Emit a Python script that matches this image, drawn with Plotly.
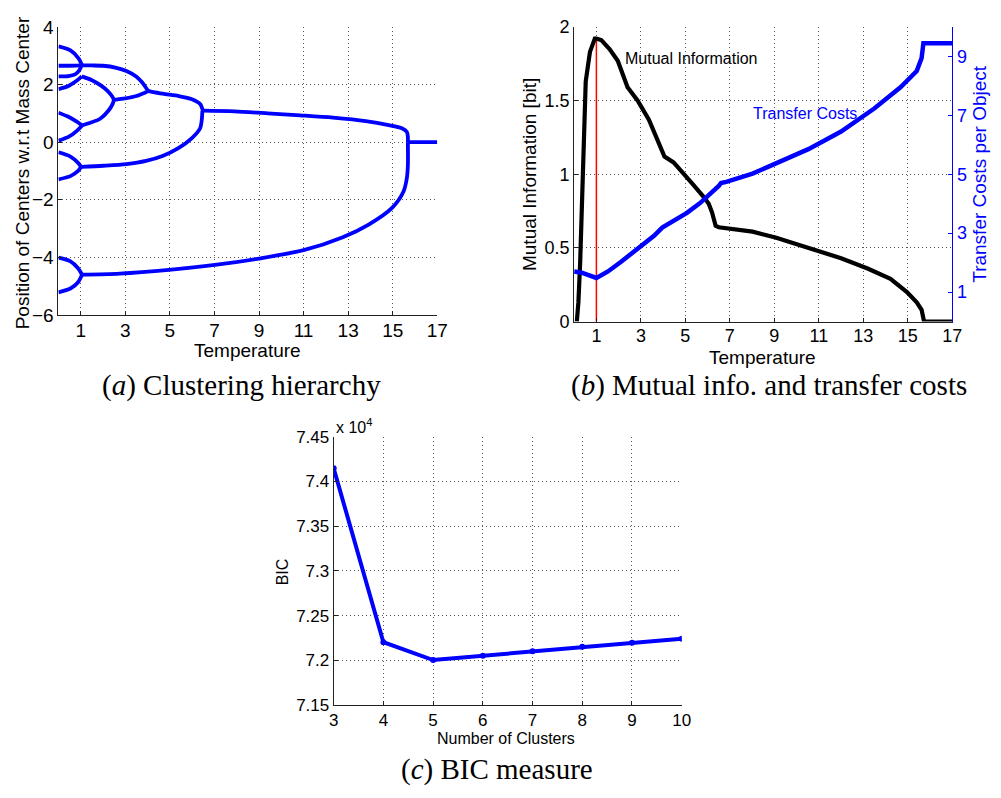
import plotly.graph_objects as go

W, H = 1001, 798
BLUE = "rgb(0,0,255)"
SANS = "Liberation Sans, Arial, sans-serif"
SERIF = "Liberation Serif, Times New Roman, serif"

# ---------------- Panel (a): clustering hierarchy branches ----------------
b1_T = [0, 0.54, 0.91, 1.06]
b1_Y = [3.32, 3.18, 2.90, 2.67]
b2_T = [0, 0.5, 1.06, 1.5, 2.0, 2.6, 3.05, 3.49, 3.78, 3.96, 4.05]
b2_Y = [2.65, 2.65, 2.66, 2.66, 2.65, 2.58, 2.47, 2.28, 2.05, 1.85, 1.77]
b3_T = [0, 0.45, 0.75, 0.92, 1.02]
b3_Y = [2.28, 2.29, 2.35, 2.47, 2.62]
b4_T = [0, 0.45, 0.8, 1.05]
b4_Y = [1.84, 1.95, 2.12, 2.28]
b5_T = [1.05, 1.5, 1.9, 2.2, 2.4, 2.49]
b5_Y = [2.28, 2.15, 1.97, 1.78, 1.60, 1.47]
b6_T = [0, 0.47, 0.84, 1.06]
b6_Y = [1.02, 0.87, 0.70, 0.58]
b7_T = [0, 0.47, 0.84, 1.06]
b7_Y = [0.05, 0.19, 0.40, 0.58]
b8_T = [1.06, 1.43, 1.87, 2.24, 2.43, 2.49]
b8_Y = [0.58, 0.67, 0.81, 1.09, 1.32, 1.47]
b9_T = [2.49, 3.0, 3.5, 3.9, 4.05]
b9_Y = [1.47, 1.52, 1.60, 1.72, 1.77]
b10_T = [4.05, 4.67, 5.40, 5.99, 6.36, 6.46, 6.50]
b10_Y = [1.77, 1.68, 1.60, 1.49, 1.32, 1.15, 1.09]
b11_T = [0, 0.54, 0.87, 1.02]
b11_Y = [-0.35, -0.50, -0.71, -0.86]
b12_T = [0, 0.54, 0.87, 1.02]
b12_Y = [-1.29, -1.18, -1.01, -0.86]
b13_T = [1.02, 2.02, 3.05, 3.93, 4.67, 5.40, 5.99, 6.36, 6.43, 6.46]
b13_Y = [-0.86, -0.82, -0.76, -0.65, -0.48, -0.20, 0.14, 0.48, 0.76, 1.09]
b14_T = [6.46, 7.90, 9.38, 10.85, 12.32, 13.79, 14.82, 15.41, 15.63, 15.68, 15.68]
b14_Y = [1.09, 1.07, 1.00, 0.93, 0.85, 0.73, 0.59, 0.48, 0.36, 0.19, 0.0]
b15_T = [0, 0.54, 0.87, 1.06]
b15_Y = [-4.01, -4.14, -4.37, -4.60]
b16_T = [0, 0.54, 0.87, 1.06]
b16_Y = [-5.21, -5.08, -4.87, -4.60]
b17_T = [1.06, 2.75, 4.96, 7.02, 9.08, 11.0, 12.76, 13.94, 14.97, 15.48, 15.63, 15.68, 15.68]
b17_Y = [-4.60, -4.56, -4.43, -4.26, -4.03, -3.75, -3.30, -2.85, -2.28, -1.72, -1.27, -0.82, 0.0]
b18_T = [15.68, 17]
b18_Y = [0, 0]

branches = [(b1_T, b1_Y), (b2_T, b2_Y), (b3_T, b3_Y), (b4_T, b4_Y), (b5_T, b5_Y),
            (b6_T, b6_Y), (b7_T, b7_Y), (b8_T, b8_Y), (b9_T, b9_Y), (b10_T, b10_Y),
            (b11_T, b11_Y), (b12_T, b12_Y), (b13_T, b13_Y), (b14_T, b14_Y),
            (b15_T, b15_Y), (b16_T, b16_Y), (b17_T, b17_Y), (b18_T, b18_Y)]

a_xticks = [1, 3, 5, 7, 9, 11, 13, 15, 17]
a_yticks = [-6, -4, -2, 0, 2, 4]

# ---------------- Panel (b): mutual information and transfer costs ----------------
mi_T = [0.12, 0.19, 0.27, 0.34, 0.41, 0.52, 0.71, 0.93, 1.0, 1.22, 1.59, 1.96, 2.40,
        2.85, 3.36, 3.73, 4.06, 4.47, 4.91, 5.35, 5.80, 6.05, 6.20, 6.36, 6.50, 8.02,
        9.05, 10.53, 12.0, 13.19, 14.22, 14.96, 15.4, 15.62, 15.73, 17]
mi_Y = [0, 0.13, 0.40, 0.79, 1.23, 1.63, 1.83, 1.92, 1.92, 1.91, 1.85, 1.77, 1.59,
        1.50, 1.37, 1.23, 1.12, 1.08, 1.01, 0.93, 0.85, 0.80, 0.74, 0.65, 0.64, 0.61,
        0.57, 0.50, 0.43, 0.36, 0.29, 0.20, 0.13, 0.08, 0.0, 0.0]
tc_T = [0, 0.34, 1.0, 1.52, 2.11, 2.85, 3.59, 3.96, 4.47, 5.07, 5.66, 6.25, 6.50,
        6.60, 6.84, 8.02, 9.05, 10.53, 12.0, 13.49, 14.67, 15.4, 15.62, 15.66, 15.70, 17]
tc_Y = [1.70, 1.66, 1.48, 1.70, 2.03, 2.47, 2.91, 3.19, 3.41, 3.69, 4.02, 4.41, 4.60,
        4.70, 4.74, 5.02, 5.35, 5.85, 6.45, 7.23, 7.95, 8.50, 8.94, 9.20, 9.44, 9.44]
peak_T = [1.0, 1.0]
peak_Y = [0.0, 1.92]

b_xticks = [1, 3, 5, 7, 9, 11, 13, 15, 17]
b_yticks = [0, 0.5, 1, 1.5, 2]
b_ytext = ["0", "0.5", "1", "1.5", "2"]
b_y2ticks = [1, 3, 5, 7, 9]

# ---------------- Panel (c): BIC ----------------
k_clusters = [3, 4, 5, 6, 7, 8, 9, 10]
bic_vals = [74148, 72204, 72005, 72052, 72102, 72153, 72197, 72244]
c_yticks = [71500, 72000, 72500, 73000, 73500, 74000, 74500]
c_ytext = ["7.15", "7.2", "7.25", "7.3", "7.35", "7.4", "7.45"]

fig = go.Figure()

for T, Y in branches:
    fig.add_trace(go.Scatter(x=T, y=Y, mode="lines", xaxis="x", yaxis="y",
                             line=dict(color=BLUE, width=3.8, shape="spline", smoothing=0.8),
                             showlegend=False, hoverinfo="skip"))

fig.add_trace(go.Scatter(x=peak_T, y=peak_Y, mode="lines", xaxis="x2", yaxis="y2",
                         line=dict(color="red", width=1.5), showlegend=False))
fig.add_trace(go.Scatter(x=tc_T, y=tc_Y, mode="lines", xaxis="x2", yaxis="y3",
                         line=dict(color=BLUE, width=4.5), showlegend=False))
fig.add_trace(go.Scatter(x=mi_T, y=mi_Y, mode="lines", xaxis="x2", yaxis="y2",
                         line=dict(color="black", width=4.2), showlegend=False))

fig.add_trace(go.Scatter(x=k_clusters, y=bic_vals, mode="lines+markers", xaxis="x3", yaxis="y4",
                         line=dict(color=BLUE, width=4), marker=dict(color=BLUE, size=6),
                         showlegend=False))


def px_x(p):
    return p / W


def px_y(p):
    return 1 - p / H


def ax(domain, rng, tickvals, ticktext=None, size=17, color="#222", anchor=None, **kw):
    d = dict(domain=domain, range=rng, tickmode="array", tickvals=tickvals,
             ticks="inside", ticklen=4, tickcolor=color, showline=True, linecolor=color,
             linewidth=1, mirror=False, showgrid=True, gridcolor="#555", gridwidth=1,
             griddash="1px,3px", zeroline=False,
             tickfont=dict(family=SANS, size=size, color="black" if color == "#222" else color))
    if ticktext is not None:
        d["ticktext"] = ticktext
    if anchor:
        d["anchor"] = anchor
    d.update(kw)
    return d


fig.update_layout(
    width=W, height=H, margin=dict(l=0, r=0, t=0, b=0),
    paper_bgcolor="white", plot_bgcolor="white", showlegend=False,
    xaxis=ax([px_x(54.3), px_x(439.3)], [0, 17], a_xticks, size=19, anchor="y",
             ticklabelstandoff=-2),
    yaxis=ax([px_y(313.3), px_y(17.3)], [-6, 4], a_yticks, size=19, anchor="x"),
    xaxis2=ax([px_x(578.4), px_x(962.7)], [0, 17], b_xticks, size=18, anchor="y2",
              ticklabelstandoff=-2),
    yaxis2=ax([px_y(320), px_y(17.3)], [0, 2], b_yticks, b_ytext, size=18, anchor="x2"),
    yaxis3=ax([px_y(320), px_y(17.3)], [0, 10], b_y2ticks, size=18, color=BLUE,
              anchor="x2", overlaying="y2", side="right", showgrid=False),
    xaxis3=ax([px_x(334), px_x(687.7)], [3, 10], k_clusters, size=17, anchor="y4",
              ticklabelstandoff=-1),
    yaxis4=ax([px_y(714), px_y(438.3)], [71500, 74500], c_yticks, c_ytext, size=17, anchor="x3"),
)

ann = []


def text(x, y, t, size, color="black", family=SANS, angle=0, xanchor="center"):
    ann.append(dict(x=px_x(x), y=px_y(y), xref="paper", yref="paper", text=t,
                    showarrow=False, textangle=angle, xanchor=xanchor, yanchor="middle",
                    font=dict(family=family, size=size, color=color)))


# panel a titles
text(246, 350, "Temperature", 19)
text(18, 167, "Position of Centers w.r.t Mass Center", 19, angle=-90)
# panel b titles
text(770, 357, "Temperature", 19)
text(533, 169, "Mutual Information [bit]", 19, angle=-90)
text(990, 168, "Transfer Costs per Object", 19, color=BLUE, angle=-90)
text(628, 50, "Mutual Information", 16, xanchor="left")
text(758, 106, "Transfer Costs", 16, color=BLUE, xanchor="left")
# panel c titles
text(509, 748, "Number of Clusters", 16)
text(282, 577, "BIC", 16, angle=-90)
text(334, 427, "x 10<sup>4</sup>", 16, xanchor="left")
# captions
text(240, 386, "(<i>a</i>) Clustering hierarchy", 29, family=SERIF)
text(776, 386, "(<i>b</i>) Mutual info. and transfer costs", 29, family=SERIF)
text(500, 780, "(<i>c</i>) BIC measure", 29, family=SERIF)

fig.update_layout(annotations=ann)

fig.write_html("out.html", config={"displayModeBar": False},
               post_script="document.body.style.margin='0px';document.body.style.overflow='hidden';")
